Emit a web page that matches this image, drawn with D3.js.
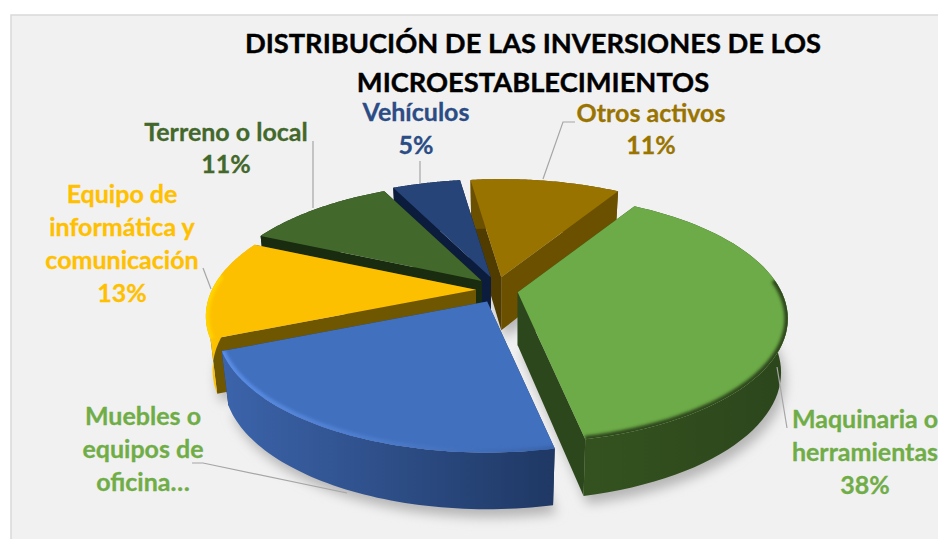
<!DOCTYPE html>
<html>
<head>
<meta charset="utf-8">
<script src="https://cdn.jsdelivr.net/npm/d3@7"></script>
<style>
html, body { margin: 0; padding: 0; background: #fff; }
svg { display: block; }
text { font-family: Lato, "Open Sans", sans-serif; font-weight: 700; }
</style>
</head>
<body>
<div id="chart"></div>
<script>
var width = 938;
var height = 539;

var categories = ["Maquinaria o herramientas", "Muebles o equipos de oficina", "Equipo de informática y comunicación", "Terreno o local", "Vehículos", "Otros activos"];
var values = [38, 22, 13, 11, 5, 11];
var topColors = ["#6cab47", "#4170bf", "#fdc000", "#43682b", "#264478", "#997300"];
var sideColors = ["#2d471d", "#1f3864", "#6f5600", "#1a2c0f", "#0c1c3c", "#6b5000"];
var outerLeft = ["#34521f", "#3c64ab", "#ffc400", "#1a2c0f", "#0c1c3c", "#6b5000"];
var outerRight = ["#2c461c", "#1f3864", "#f0b400", "#1a2c0f", "#0c1c3c", "#6b5000"];
var rimLeft = ["#2d471d", "#5a8ee6", "#ffd400", "#43682b", "#264478", "#997300"];
var rimRight = ["#2d471d", "#3a64ab", "#ffd400", "#43682b", "#264478", "#997300"];
var labelColors = ["#70ad47", "#70ad47", "#ffc000", "#43682b", "#2b4c85", "#9a7400"];

var titleLines = ["DISTRIBUCIÓN DE LAS INVERSIONES DE LOS", "MICROESTABLECIMIENTOS"];

var cx = 497, cy = 290, rx = 264, ry = 119, explodeX = 21, explodeY = 13, persp = 0.212, depth = 53;

var svg = d3.select("#chart")
            .append("svg")
            .attr("width", width)
            .attr("height", height);

var defs = svg.append("defs");
defs.append("filter").attr("id", "shadow").attr("x", "-20%").attr("y", "-20%").attr("width", "140%").attr("height", "140%")
    .append("feGaussianBlur").attr("stdDeviation", 6);
defs.append("filter").attr("id", "rim").attr("x", "-20%").attr("y", "-20%").attr("width", "140%").attr("height", "140%")
    .append("feGaussianBlur").attr("stdDeviation", 1.8);

// background panel, runs off the right and bottom edges
svg.append("rect").attr("x", 11).attr("y", 15).attr("width", width).attr("height", height)
   .attr("fill", "#f1f1f1").attr("stroke", "#d9d9d9").attr("stroke-width", 1.5);

var pie = d3.pie().sort(null).startAngle(31.5 * Math.PI / 180).endAngle(391.5 * Math.PI / 180);
var slices = pie(values);

// each slice is drawn around its own pulled out tip
function apex(d, drop) {
    var mid = (d.startAngle + d.endAngle) / 2;
    return [cx + explodeX * Math.sin(mid), cy - explodeY * Math.cos(mid) + (drop ? depth : 0)];
}

function arcPoints(d, drop, reverse) {
    var tip = apex(d, false);
    var angles = d3.range(0, 61).map(function(i) { return d.startAngle + (d.endAngle - d.startAngle) * i / 60; });
    if (reverse) angles.reverse();
    return angles.map(function(a) {
        var px = Math.sin(a), py = -Math.cos(a);
        var s = 1 / (1 - persp * py);
        return [
            tip[0] + rx * px * s * (drop ? 0.975 : 1),
            tip[1] + ry * py * s + (drop ? depth * (1 + 0.07 * py) : 0)
        ];
    });
}

var line = d3.line();

// soft shadow below the pie
slices.forEach(function(d) {
    svg.append("path")
       .attr("d", line([apex(d, true)].concat(arcPoints(d, true))) + "Z")
       .attr("transform", "translate(4,8)")
       .attr("fill", "#b5b5b5")
       .attr("filter", "url(#shadow)");
});

// back slices first so the front ones cover them
var drawOrder = [5, 4, 3, 2, 0, 1];

drawOrder.forEach(function(i) {
    var d = slices[i];
    var g = svg.append("g");
    var top = arcPoints(d, false), bottom = arcPoints(d, true, true);
    var a0 = apex(d, false), a1 = apex(d, true);
    var x0 = d3.min(top, function(p) { return p[0]; }), x1 = d3.max(top, function(p) { return p[0]; });

    var grad = defs.append("linearGradient").attr("id", "outer" + i).attr("gradientUnits", "userSpaceOnUse")
        .attr("x1", x0).attr("x2", x1).attr("y1", 0).attr("y2", 0);
    grad.append("stop").attr("offset", 0).attr("stop-color", outerLeft[i]);
    grad.append("stop").attr("offset", 1).attr("stop-color", outerRight[i]);

    var rimGrad = defs.append("linearGradient").attr("id", "rimgrad" + i).attr("gradientUnits", "userSpaceOnUse")
        .attr("x1", x0).attr("x2", x1).attr("y1", 0).attr("y2", 0);
    rimGrad.append("stop").attr("offset", 0).attr("stop-color", rimLeft[i]);
    rimGrad.append("stop").attr("offset", 1).attr("stop-color", rimRight[i]);

    // radial walls first (the left one on Otros activos is darker), then the outer wall
    g.append("path").attr("d", line([a0, top[top.length - 1], bottom[0], a1]) + "Z").attr("fill", sideColors[i]);
    g.append("path").attr("d", line([a0, top[0], bottom[bottom.length - 1], a1]) + "Z")
     .attr("fill", i === 5 ? d3.rgb(sideColors[i]).darker(0.8) : sideColors[i]);
    g.append("path").attr("d", line(top.concat(bottom)) + "Z").attr("fill", "url(#outer" + i + ")");
    // top face
    var topPath = line([a0].concat(top)) + "Z";
    defs.append("clipPath").attr("id", "clip" + i).append("path").attr("d", topPath);
    g.append("path").attr("d", topPath).attr("fill", topColors[i]);
    // bevel only on the part of the rim that faces the viewer
    var rim = top.filter(function(p) { return p[1] > a0[1] - 15; });
    if (rim.length > 1) {
        g.append("g").attr("clip-path", "url(#clip" + i + ")")
         .append("path").attr("d", line(rim)).attr("fill", "none")
         .attr("stroke", "url(#rimgrad" + i + ")").attr("stroke-width", 7).attr("filter", "url(#rim)");
    }
});

// leader lines
var leaderLines = [
    [[787, 428], [777, 367]],
    [[192, 463], [203, 463], [347, 493]],
    [[203, 268], [211, 289]],
    [[313, 141], [313, 208]],
    [[420, 161], [420, 183]],
    [[575, 122], [563, 122], [543, 179]]
];
svg.selectAll("path.leader").data(leaderLines).enter().append("path")
   .attr("class", "leader")
   .attr("d", function(d) { return line(d); })
   .attr("fill", "none").attr("stroke", "#a6a6a6").attr("stroke-width", 1.2);

// title
svg.selectAll("text.title").data(titleLines).enter().append("text")
   .attr("class", "title")
   .attr("x", 533)
   .attr("y", function(d, i) { return 53 + i * 39; })
   .attr("text-anchor", "middle")
   .attr("font-size", 27.3)
   .attr("fill", "#000")
   .attr("stroke", "#000")
   .attr("stroke-width", 0.4)
   .text(function(d) { return d; });

// labels
var labelLines = [
    ["Maquinaria o", "herramientas", "38%"],
    ["Muebles o", "equipos de", "oficina…"],
    ["Equipo de", "informática y", "comunicación", "13%"],
    ["Terreno o local", "11%"],
    ["Vehículos", "5%"],
    ["Otros activos", "11%"]
];
var labelX = [865, 143, 122, 226, 416, 651];
var labelY = [428, 425, 203, 141, 121, 122];
var labelGap = [33, 33, 33, 32, 33, 32];

labelLines.forEach(function(lines, i) {
    lines.forEach(function(t, j) {
        svg.append("text")
           .attr("x", labelX[i])
           .attr("y", labelY[i] + j * labelGap[i])
           .attr("text-anchor", "middle")
           .attr("font-size", 25)
           .attr("fill", labelColors[i])
           .attr("stroke", labelColors[i])
           .attr("stroke-width", 0.3)
           .text(t);
    });
});
</script>
</body>
</html>
